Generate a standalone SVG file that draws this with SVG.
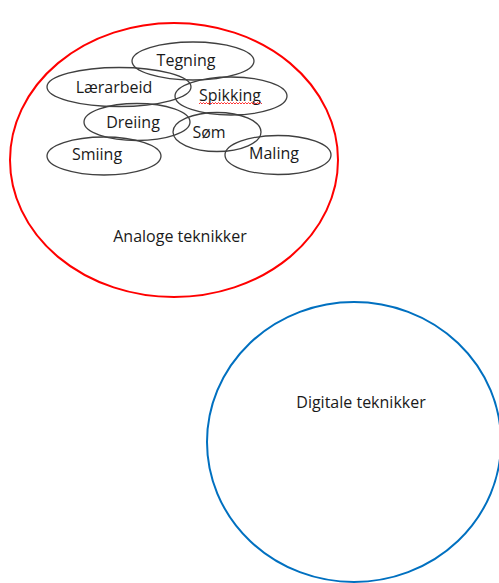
<svg xmlns="http://www.w3.org/2000/svg" width="499" height="583" viewBox="0 0 499 583">
  <style>
    .group { fill: none; stroke-width: 2; }
    .analog { stroke: #ff0000; }
    .digital { stroke: #0070c0; }
    .item { fill: none; stroke: #404040; stroke-width: 1.3; }
    text { font-family: "Open Sans", "Liberation Sans", sans-serif; fill: #1a1a1a; text-anchor: middle; }
    .lbl { font-size: 16px; }
    .title { font-size: 16px; }
    .spell { fill: none; stroke: #ff0000; stroke-width: 0.8; }
  </style>
  <rect width="499" height="583" fill="#ffffff"/>

  <!-- large category circles -->
  <g id="analoge">
    <ellipse class="group analog" cx="174" cy="160" rx="164" ry="137"/>
    <text class="title" x="180" y="242">Analoge teknikker</text>
  </g>
  <g id="digitale">
    <ellipse class="group digital" cx="354" cy="442" rx="147" ry="140"/>
    <text class="title" x="361" y="408">Digitale teknikker</text>
  </g>

  <!-- technique ellipses -->
  <g id="tegning">
    <ellipse class="item" cx="193" cy="61" rx="61" ry="19"/>
    <text class="lbl" x="186" y="66">Tegning</text>
  </g>
  <g id="laerarbeid">
    <ellipse class="item" cx="119" cy="87" rx="72" ry="19.5"/>
    <text class="lbl" x="114" y="93">Lærarbeid</text>
  </g>
  <g id="spikking">
    <ellipse class="item" cx="231" cy="96" rx="56" ry="19"/>
    <text class="lbl" x="230" y="101">Spikking</text>
    <path class="spell" d="M199 104 l1.5 -1.5 l1.5 1.5 l1.5 -1.5 l1.5 1.5 l1.5 -1.5 l1.5 1.5 l1.5 -1.5 l1.5 1.5 l1.5 -1.5 l1.5 1.5 l1.5 -1.5 l1.5 1.5 l1.5 -1.5 l1.5 1.5 l1.5 -1.5 l1.5 1.5 l1.5 -1.5 l1.5 1.5 l1.5 -1.5 l1.5 1.5 l1.5 -1.5 l1.5 1.5 l1.5 -1.5 l1.5 1.5 l1.5 -1.5 l1.5 1.5 l1.5 -1.5 l1.5 1.5 l1.5 -1.5 l1.5 1.5 l1.5 -1.5 l1.5 1.5 l1.5 -1.5 l1.5 1.5 l1.5 -1.5 l1.5 1.5 l1.5 -1.5 l1.5 1.5 l1.5 -1.5 l1.5 1.5 l1.5 -1.5 l1.5 1.5"/>
  </g>
  <g id="dreiing">
    <ellipse class="item" cx="137" cy="122" rx="53" ry="18.5"/>
    <text class="lbl" x="133" y="128">Dreiing</text>
  </g>
  <g id="som">
    <ellipse class="item" cx="217" cy="132" rx="44" ry="19.5"/>
    <text class="lbl" x="209" y="138">Søm</text>
  </g>
  <g id="smiing">
    <ellipse class="item" cx="104" cy="156" rx="57" ry="19"/>
    <text class="lbl" x="97" y="160">Smiing</text>
  </g>
  <g id="maling">
    <ellipse class="item" cx="278" cy="155" rx="53" ry="19.5"/>
    <text class="lbl" x="274" y="159">Maling</text>
  </g>

  <g id="connectors"/>
</svg>
